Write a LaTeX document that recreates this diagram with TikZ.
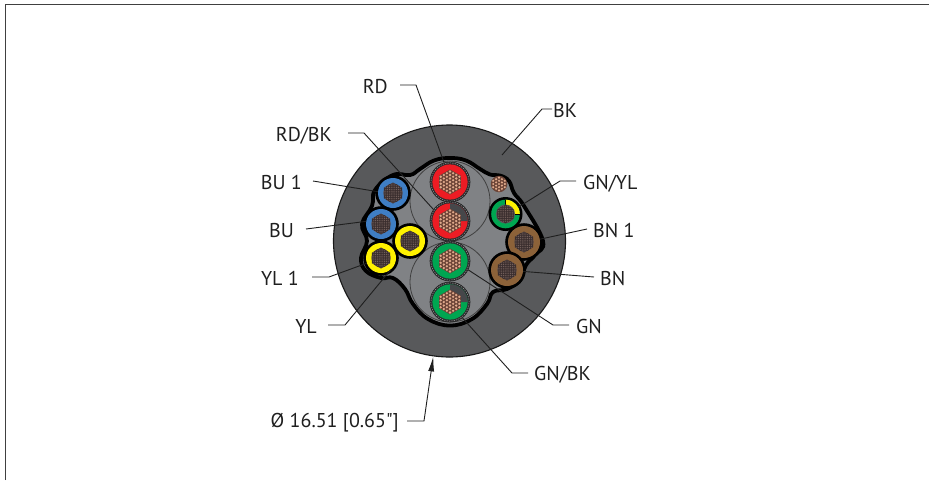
\documentclass[tikz,border=0pt]{standalone}
\usepackage{fontspec}
\setmainfont{PT Sans}
\newfontfamily\plainq{PT Sans}
\usetikzlibrary{arrows.meta}
\definecolor{jacket}{HTML}{58595B}
\definecolor{fillgray}{HTML}{808285}
\definecolor{cred}{HTML}{ED1C24}
\definecolor{cgreen}{HTML}{00A651}
\definecolor{cblue}{HTML}{3F7EC4}
\definecolor{cyellow}{HTML}{FFF200}
\definecolor{cbrown}{HTML}{8C6239}
\definecolor{copper}{HTML}{E0AA8C}
\definecolor{copperdk}{HTML}{6B4336}
\definecolor{strandbg}{HTML}{3A2E2E}
\definecolor{stranddot}{HTML}{7A6560}
\definecolor{wedge}{HTML}{46474A}
\newcommand{\hexpath}[3]{(#1,#2) +(30:#3pt) -- +(90:#3pt) -- +(150:#3pt) -- +(210:#3pt) -- +(270:#3pt) -- +(330:#3pt) -- cycle}
\newcommand{\copperbundle}[2]{%
  \fill[copperdk] \hexpath{#1}{#2}{12.5};
  \foreach \i in {-3,...,3}{%
    \pgfmathtruncatemacro\nn{6-abs(\i)}%
    \foreach \j in {0,...,\nn}{%
      \fill[copper] ({#1+\i*3.1},{#2+(\j-\nn/2)*3.5}) circle (1.3pt);
    }%
  }%
}
\newcommand{\finebundle}[3]{%
  \fill[strandbg] \hexpath{#1}{#2}{#3};
  \fill[strandbg] (#1,#2) circle [radius={(#3-1)*1pt}];
  \pgfmathsetmacro\rr{#3-1}%
  \foreach \i in {-5,...,5}{%
    \foreach \j in {-5,...,5}{%
      \pgfmathsetmacro\dd{sqrt((\i*1.8)^2+(\j*1.8)^2)}%
      \ifdim\dd pt<\rr pt
        \fill[stranddot] ({#1+\i*1.8},{#2+\j*1.8}) circle (0.55pt);
      \fi
    }%
  }%
}
\newcommand{\shielded}[4]{%
  \node[screenring] (#1) at (#2,#3) {};
  \draw[screendash] (#2,#3) circle (19.1pt);
  \fill[#4] (#2,#3) circle (17.6pt);
}
\newcommand{\insulated}[5]{%
  \fill[black] (#2,#3) circle [radius={(#5+2.8)*1pt}];
  \node[circle,inner sep=0pt,minimum size={(2*#5)*1pt},fill=#4] (#1) at (#2,#3) {};
  \finebundle{#2}{#3}{10.5}
}
\tikzset{
  lblr/.style={font=\fontsize{20}{24}\selectfont,text=black!88,inner sep=0pt,anchor=base east},
  lbll/.style={font=\fontsize{20}{24}\selectfont,text=black!88,inner sep=0pt,anchor=base west},
  leader/.style={draw=black!88,line width=0.9pt},
  screenring/.style={circle,inner sep=0pt,minimum size=40pt,fill=jacket!50!black,draw=black!85,line width=0.7pt},
  screendash/.style={draw=white!65!black,line width=0.45pt,dash pattern=on 1.3pt off 1.1pt},
}
\begin{document}
\begin{tikzpicture}[x=1pt,y=-1pt]
\useasboundingbox (0,0) rectangle (929,480);
\coordinate (fA) at (5,480);
\coordinate (fB) at (5,4);
\coordinate (fC) at (929,4);
\draw[draw=black!75,line width=1pt] (fA) -- (fB) -- (fC);

% jacket
\node[circle,inner sep=0pt,minimum size=232pt,fill=jacket,draw=black!90,line width=1.1pt] (cable) at (449.5,241) {};

% inner filler with black outline
\draw[fill=fillgray,draw=black,line width=3.8pt,line join=round]
  plot[smooth cycle,tension=0.7] coordinates {
   (450,158) (466,160.5) (480,169) (490,174.5) (500,175.5) (509,181) (514,193) (524,206)
   (543,241) (535,255) (526,265) (520,280) (507,289) (493,292)
   (487,304) (472,319) (450,325.5) (428,319) (413,304) (405,289) (393,278)
   (381,278) (366,271) (361,258) (367,241) (362,224) (372,206) (375,190)
   (393,175) (410,175) (420,169) (434,160.5)};

% two large filler rings
\node[circle,inner sep=0pt,minimum size=80pt,draw=black!75,line width=0.8pt] (ringU) at (450,201) {};
\node[circle,inner sep=0pt,minimum size=80pt,draw=black!75,line width=0.8pt] (ringL) at (450,282) {};

% shielded conductors
\shielded{rd}{450}{182}{cred}
\shielded{rdbk}{450}{221}{cred}
\shielded{gn}{450}{261}{cgreen}
\shielded{gnbk}{450}{302}{cgreen}
\fill[wedge] (450,221) -- ++(0:17.6pt) arc[start angle=0,end angle=90,radius=17.6pt] -- cycle;
\fill[wedge] (450,302) -- ++(0:17.6pt) arc[start angle=0,end angle=90,radius=17.6pt] -- cycle;
\copperbundle{450}{182}
\copperbundle{450}{221}
\copperbundle{450}{261}
\copperbundle{450}{302}

% drain wire
\node[circle,inner sep=0pt,minimum size=16.5pt,fill=copperdk] (drain) at (499,184) {};
\foreach \i in {-2,...,2}{%
  \pgfmathtruncatemacro\nn{4-abs(\i)}%
  \foreach \j in {0,...,\nn}{%
    \fill[copper] ({499+\i*2.9},{184+(\j-\nn/2)*3.2}) circle (1.2pt);
  }%
}

% insulated cores
\insulated{bua}{393}{193}{cblue}{15}
\insulated{bu}{381}{224}{cblue}{15}
\insulated{yla}{381}{258}{cyellow}{15}
\insulated{yl}{410}{241}{cyellow}{15}
\insulated{bna}{524}{242}{cbrown}{16}
\insulated{bn}{507}{270}{cbrown}{16}
% green/yellow core
\fill[black] (505.5,214) circle (17pt);
\node[circle,inner sep=0pt,minimum size=28.6pt,fill=cgreen] (gnyl) at (505.5,214) {};
\fill[cyellow] (505.5,214) -- ++(0:14.3pt) arc[start angle=0,end angle=88,radius=14.3pt] -- cycle;
\draw[black,line width=0.7pt] (505.5,199.7) -- (505.5,214) -- (519.8,214);
\fill[jacket] (505.5,214) circle (9.5pt);
\finebundle{505.5}{214}{9.3}

% labels
\node[lblr] (lrd) at (388,93) {RD};
\node[lblr] (lrdbk) at (332,141) {RD/BK};
\node[lblr] (lbua) at (302,189) {BU 1};
\node[lblr] (lbu) at (294,237) {BU};
\node[lblr] (lyla) at (299,285) {YL 1};
\node[lblr] (lyl) at (317,333) {YL};
\node[lbll] (lbk) at (553,117) {BK};
\node[lbll] (lgnyl) at (583,189) {GN/YL};
\node[lbll] (lbna) at (593,237) {BN 1};
\node[lbll] (lbn) at (600,285) {BN};
\node[lbll] (lgn) at (576,333) {GN};
\node[lbll] (lgnbk) at (534,380) {GN/BK};
\node[lblr] (ldia) at (399,427) {Ø 16.51 [0.65{\plainq "}]};

% leaders
\coordinate (jk) at (502,155);
\draw[leader] (lrd.base east) ++(12,-8) -- ++(16,0) -- (rd.107);
\draw[leader] (lrdbk.base east) ++(16,-8) -- ++(16,0) -- (rdbk.145);
\draw[leader] (lbua.base east) ++(11,-8) -- (bua.175);
\draw[leader] (lbu.base east) ++(12,-8) -- (bu.170);
\draw[leader] (lyla.base east) ++(13,-8) -- ++(17,0) -- (yla.200);
\draw[leader] (lyl.base east) ++(11,-8) -- ++(17,0) -- (yla.-50);
\draw[leader] (lbk.base west) ++(-1,-8) -- ++(-10,0) -- (jk);
\draw[leader] (lgnyl.base west) ++(-7,-8) -- ++(-16,0) -- (gnyl.28);
\draw[leader] (lbna.base west) ++(-6,-8) -- (bna.10);
\draw[leader] (lbn.base west) ++(-6,-8) -- (bn.-5);
\draw[leader] (lgn.base west) ++(-7,-8) -- ++(-16,0) -- (gn.-26);
\draw[leader] (lgnbk.base west) ++(-6,-7) -- ++(-16,0) -- (gnbk.-52);
\draw[leader,-{Latex[length=15pt,width=6pt]}] (ldia.base east) ++(8,-6) -- ++(17,0) -- (cable.-98);
\end{tikzpicture}
\end{document}
